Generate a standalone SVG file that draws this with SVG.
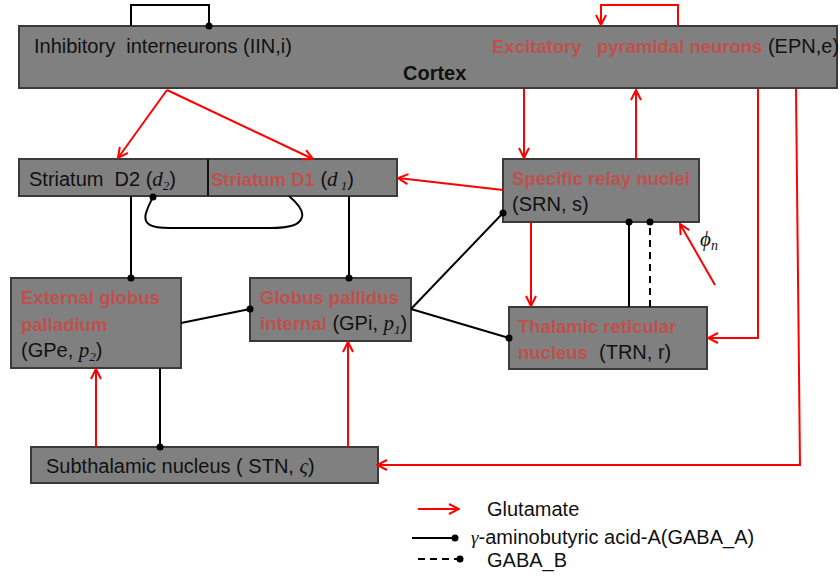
<svg xmlns="http://www.w3.org/2000/svg" width="840" height="579" viewBox="0 0 840 579">
<defs>
<style>
.box{fill:#808080;stroke:#3a3a3a;stroke-width:2}
.t{font-family:"Liberation Sans",Arial,sans-serif;font-size:20px;fill:#111}
.b{font-weight:bold;fill:#c0504d;font-size:18.5px}
.m{font-family:"Liberation Serif","Times New Roman",serif;font-style:italic}
.red{fill:none;stroke:#ff0000;stroke-width:2}
.blk{fill:none;stroke:#000;stroke-width:2}
.dash{fill:none;stroke:#000;stroke-width:2;stroke-dasharray:7,5}
.dot{fill:#000}
</style>
<marker id="ar" viewBox="0 0 12 12" refX="11" refY="6" markerWidth="12" markerHeight="12" markerUnits="userSpaceOnUse" orient="auto">
<path d="M1,1 L11,6 L1,11" fill="none" stroke="#ff0000" stroke-width="2"/>
</marker>
</defs>
<g id="nodes">
<g id="cortex">
<rect class="box" x="19" y="26" width="818" height="62"/>
<text class="t" x="34" y="53" xml:space="preserve">Inhibitory  interneurons (IIN,i)</text>
<text class="t" x="403" y="80" font-weight="bold" font-size="19">Cortex</text>
<text class="t" x="492" y="53" xml:space="preserve"><tspan class="b">Excitatory   pyramidal neurons</tspan> (EPN,e)</text>
</g>
<g id="striatum">
<rect class="box" x="19" y="159" width="378" height="37"/>
<line x1="208" y1="159" x2="208" y2="196" stroke="#111" stroke-width="2"/>
<text class="t" x="29" y="186" xml:space="preserve">Striatum  D2 (<tspan class="m" font-size="21">d</tspan><tspan class="m" font-size="13" dy="4">2</tspan><tspan dy="-4">)</tspan></text>
<text class="t" x="211" y="186" xml:space="preserve"><tspan class="b">Striatum D1</tspan> (<tspan class="m" font-size="21">d</tspan><tspan class="m" font-size="13" dy="4"> 1</tspan><tspan dy="-4">)</tspan></text>
</g>
<g id="srn">
<rect class="box" x="503" y="159" width="196" height="63"/>
<text class="t b" x="512" y="185">Specific relay nuclei</text>
<text class="t" x="512" y="211">(SRN, s)</text>
</g>
<g id="gpe">
<rect class="box" x="11" y="278" width="170" height="90"/>
<text class="t b" x="21" y="304">External globus</text>
<text class="t b" x="21" y="331">palladium</text>
<text class="t" x="21" y="357">(GPe, <tspan class="m" font-size="21">p</tspan><tspan class="m" font-size="13" dy="4">2</tspan><tspan dy="-4">)</tspan></text>
</g>
<g id="gpi">
<rect class="box" x="250" y="278" width="161" height="63"/>
<text class="t b" x="260" y="304">Globus pallidus</text>
<text class="t" x="260" y="330"><tspan class="b">internal</tspan> (GPi, <tspan class="m" font-size="21">p</tspan><tspan class="m" font-size="13" dy="4">1</tspan><tspan dy="-4">)</tspan></text>
</g>
<g id="trn">
<rect class="box" x="509" y="307" width="198" height="62"/>
<text class="t b" x="518" y="333">Thalamic reticular</text>
<text class="t" x="518" y="359" xml:space="preserve"><tspan class="b">nucleus</tspan>  (TRN, r)</text>
</g>
<g id="stn">
<rect class="box" x="31" y="447" width="347" height="36"/>
<text class="t" x="46" y="473">Subthalamic nucleus ( STN, <tspan class="m" font-size="21">ς</tspan>)</text>
</g>
</g>
<g id="connectors">
<path class="blk" d="M131,26 V5 H209 V26"/>
<circle class="dot" cx="209" cy="26" r="3.5"/>
<path class="red" d="M678,26 V5 H601 V25" marker-end="url(#ar)"/>
<path class="red" d="M167,90 L118,158" marker-end="url(#ar)"/>
<path class="red" d="M167,90 L313,159" marker-end="url(#ar)"/>
<path class="red" d="M524,89 V158" marker-end="url(#ar)"/>
<path class="red" d="M636,159 V90" marker-end="url(#ar)"/>
<path class="red" d="M758,89 V338 H708" marker-end="url(#ar)"/>
<path class="red" d="M796,89 L800,465 H377" marker-end="url(#ar)"/>
<path class="red" d="M503,190 L398,178" marker-end="url(#ar)"/>
<path class="red" d="M531,222 V306" marker-end="url(#ar)"/>
<path class="red" d="M715,285 L680,224" marker-end="url(#ar)"/>
<path class="red" d="M96,447 V369" marker-end="url(#ar)"/>
<path class="red" d="M348,447 V342" marker-end="url(#ar)"/>
<path class="blk" d="M289,196 C296,202 304,210 302,217 C300,225 290,228 270,228 L170,228 C150,228 143,224 146,213 C148,206 151,201 153,197"/>
<circle class="dot" cx="153" cy="197" r="3.5"/>
<line class="blk" x1="131" y1="196" x2="131" y2="278"/>
<circle class="dot" cx="131" cy="278" r="3.5"/>
<line class="blk" x1="349" y1="196" x2="349" y2="278"/>
<circle class="dot" cx="349" cy="278" r="3.5"/>
<line class="blk" x1="181" y1="323" x2="250" y2="309"/>
<circle class="dot" cx="250" cy="309" r="3.5"/>
<line class="blk" x1="411" y1="309" x2="503" y2="213"/>
<circle class="dot" cx="503" cy="213" r="3.5"/>
<line class="blk" x1="411" y1="309" x2="509" y2="338"/>
<circle class="dot" cx="509" cy="338" r="3.5"/>
<line class="blk" x1="629" y1="307" x2="629" y2="222"/>
<circle class="dot" cx="629" cy="222" r="3.5"/>
<line class="dash" x1="650" y1="307" x2="650" y2="222"/>
<circle class="dot" cx="650" cy="222" r="3.5"/>
<line class="blk" x1="160" y1="368" x2="160" y2="447"/>
<circle class="dot" cx="160" cy="447" r="3.5"/>
<text x="700" y="246" font-family="Liberation Serif,serif" font-style="italic" font-size="21" fill="#111">ϕ<tspan font-size="14" dy="4">n</tspan></text>
</g>
<g id="legend">
<path class="red" d="M418,509 H459" marker-end="url(#ar)"/>
<text class="t" x="487" y="516">Glutamate</text>
<line class="blk" x1="412" y1="538" x2="455" y2="538"/>
<circle class="dot" cx="455" cy="538" r="3.5"/>
<text class="t" x="471" y="544"><tspan class="m" font-size="19">γ</tspan>-aminobutyric acid-A(GABA_A)</text>
<line class="dash" x1="418" y1="559" x2="460" y2="559"/>
<circle class="dot" cx="460" cy="559" r="3.5"/>
<text class="t" x="487" y="567">GABA_B</text>
</g>
</svg>
